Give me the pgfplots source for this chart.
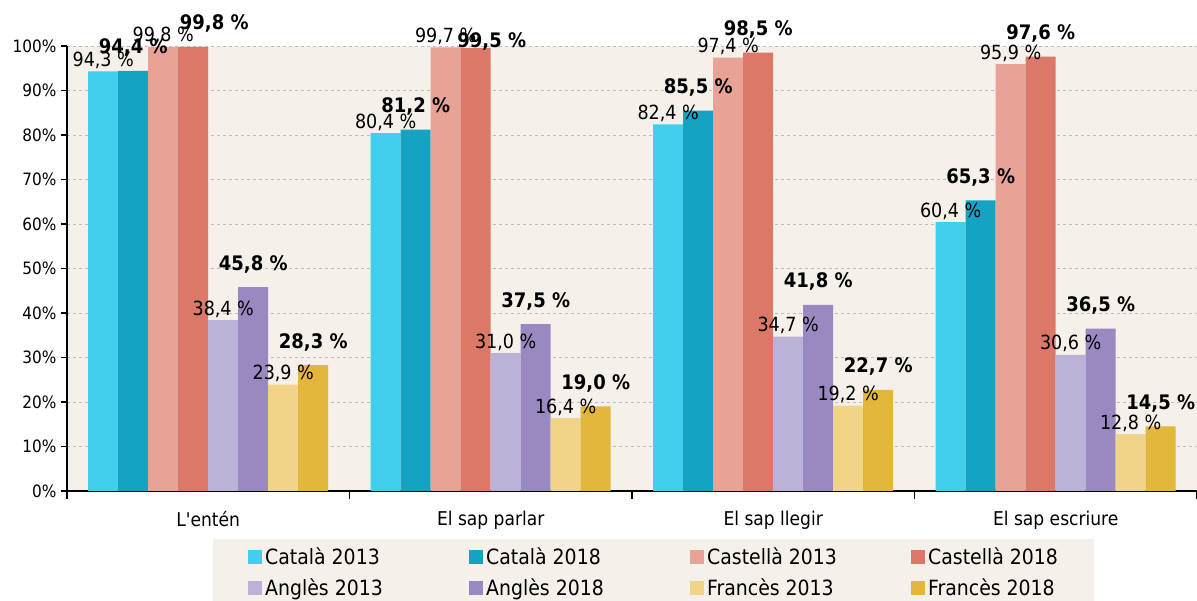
\documentclass[border=0pt]{standalone}
\usepackage{pgfplots}
\pgfplotsset{compat=1.18}
\usepackage{fontspec}
\setmainfont{DejaVu Sans Condensed}
\definecolor{cA}{HTML}{41CFEC}
\definecolor{cB}{HTML}{14A3C2}
\definecolor{cC}{HTML}{E8A296}
\definecolor{cD}{HTML}{DB7868}
\definecolor{cE}{HTML}{BCB1D7}
\definecolor{cF}{HTML}{9A89C1}
\definecolor{cG}{HTML}{F0D488}
\definecolor{cH}{HTML}{E3B73B}
\definecolor{bg}{HTML}{F5F0EA}
\definecolor{gridc}{HTML}{BDBDBD}
\begin{document}
\begin{tikzpicture}
\path[use as bounding box] (-67pt,-110pt) rectangle (1130pt,491pt);
\begin{axis}[
  at={(0pt,0pt)}, anchor=south west,
  scale only axis, width=1130pt, height=445pt,
  ybar=0pt, bar width=30pt,
  xmin=-0.5, xmax=3.5, ymin=0, ymax=100,
  enlarge x limits=false, clip=false,
  axis background/.style={fill=bg},
  axis x line*=bottom, axis y line*=left,
  x axis line style={-, line width=1.5pt},
  y axis line style={-, line width=1.5pt},
  tick align=outside,
  xtick={0,1,2,3},
  xticklabels={L\textquotesingle entén, El sap parlar, El sap llegir, El sap escriure},
  minor xtick={-0.5,0.5,1.5,2.5,3.5},
  major x tick style={draw=none},
  minor x tick style={black, line width=1.2pt},
  minor tick length=8pt,
  major tick length=6pt,
  ytick={0,10,...,100},
  y tick style={black, line width=1.2pt},
  yticklabel={\pgfmathprintnumber{\tick}\%},
  /pgf/number format/assume math mode=true,
  ymajorgrids, grid style={gridc, dashed, line width=0.8pt},
  yticklabel style={font=\fontsize{17}{20}\selectfont, xshift=-1pt},
  xticklabel style={font=\fontsize{19}{22}\selectfont, yshift=-11pt},
  every axis plot/.append style={draw=none},
  nodes near coords={\pgfmathprintnumber[use comma,fixed,fixed zerofill,precision=1]{\pgfplotspointmeta}\ \%},
  legend columns=4,
  legend style={at={(axis description cs:0.1292,0)}, anchor=north west, yshift=-48pt,
    fill=bg, draw=none, inner xsep=35pt, inner ysep=7pt,
    font=\fontsize{21}{25}\selectfont, row sep=8pt,
    nodes={inner xsep=3pt}},
  legend image code/.code={\fill[#1] (0pt,-7pt) rectangle (14pt,7pt);},
]
\pgfplotsset{
  lab13/.style={every node near coord/.append style={font=\fontsize{19.5}{23}\selectfont, anchor=base, yshift=5pt, inner sep=0pt, text=black}},
  lab18/.style={every node near coord/.append style={font=\bfseries\fontsize{20}{24}\selectfont, anchor=base, yshift=17pt, inner sep=0pt, text=black}},
}
\addplot[fill=cA, lab13] coordinates {(0,94.3) (1,80.4) (2,82.4) (3,60.4)};
\addlegendentry{\makebox[201pt][l]{Català 2013}}
\addplot[fill=cB, lab18] coordinates {(0,94.4) (1,81.2) (2,85.5) (3,65.3)};
\addlegendentry{\makebox[201pt][l]{Català 2018}}
\addplot[fill=cC, lab13] coordinates {(0,99.8) (1,99.7) (2,97.4) (3,95.9)};
\addlegendentry{\makebox[201pt][l]{Castellà 2013}}
\addplot[fill=cD, lab18,
  coordinate style/.condition={x==0}{xshift=21pt},
  coordinate style/.condition={x==1}{xshift=16pt, yshift=-16pt}] coordinates {(0,99.8) (1,99.5) (2,98.5) (3,97.6)};
\addlegendentry{\makebox[128pt][l]{Castellà 2018}}
\addplot[fill=cE, lab13] coordinates {(0,38.4) (1,31.0) (2,34.7) (3,30.6)};
\addlegendentry{\makebox[201pt][l]{Anglès 2013}}
\addplot[fill=cF, lab18] coordinates {(0,45.8) (1,37.5) (2,41.8) (3,36.5)};
\addlegendentry{\makebox[201pt][l]{Anglès 2018}}
\addplot[fill=cG, lab13] coordinates {(0,23.9) (1,16.4) (2,19.2) (3,12.8)};
\addlegendentry{\makebox[201pt][l]{Francès 2013}}
\addplot[fill=cH, lab18] coordinates {(0,28.3) (1,19.0) (2,22.7) (3,14.5)};
\addlegendentry{\makebox[128pt][l]{Francès 2018}}
\end{axis}
\end{tikzpicture}
\end{document}
